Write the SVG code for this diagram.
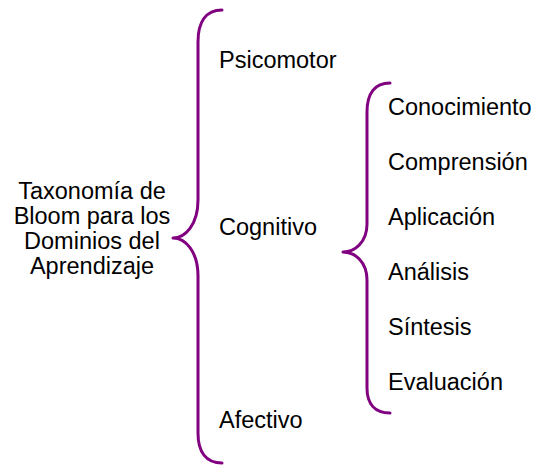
<svg xmlns="http://www.w3.org/2000/svg" width="537" height="465" viewBox="0 0 537 465">
<style>
text{font-family:"Liberation Sans",Arial,sans-serif;font-size:23.5px;fill:#000}
.brace{fill:none;stroke:#800080;stroke-width:3;stroke-linecap:round;stroke-linejoin:round}
</style>
<rect width="537" height="465" fill="#fff"/>
<g id="connectors">
<path class="brace" d="M222,10 C206,10 198,22 198,42 L198,200 C198,225 185,238 173,238 C185,238 198,251 198,276 L198,433 C198,452 206,463 222,463"/>
<path class="brace" d="M390,83 C375,83 367,93 367,112 L367,224 C367,242 355,252 343,252 C355,252 367,262 367,280 L367,388 C367,404 375,413 390,413"/>
</g>
<g id="root"><text text-anchor="middle"><tspan x="92" y="199">Taxonomía de</tspan><tspan x="92" y="224">Bloom para los</tspan><tspan x="92" y="249">Dominios del</tspan><tspan x="92" y="274">Aprendizaje</tspan></text></g>
<g id="psicomotor"><text x="219" y="68">Psicomotor</text></g>
<g id="cognitivo"><text x="219" y="235">Cognitivo</text></g>
<g id="afectivo"><text x="219" y="428">Afectivo</text></g>
<g id="conocimiento"><text x="388" y="115">Conocimiento</text></g>
<g id="comprension"><text x="388" y="170">Comprensión</text></g>
<g id="aplicacion"><text x="388" y="225">Aplicación</text></g>
<g id="analisis"><text x="388" y="280">Análisis</text></g>
<g id="sintesis"><text x="388" y="335">Síntesis</text></g>
<g id="evaluacion"><text x="388" y="390">Evaluación</text></g>
</svg>
